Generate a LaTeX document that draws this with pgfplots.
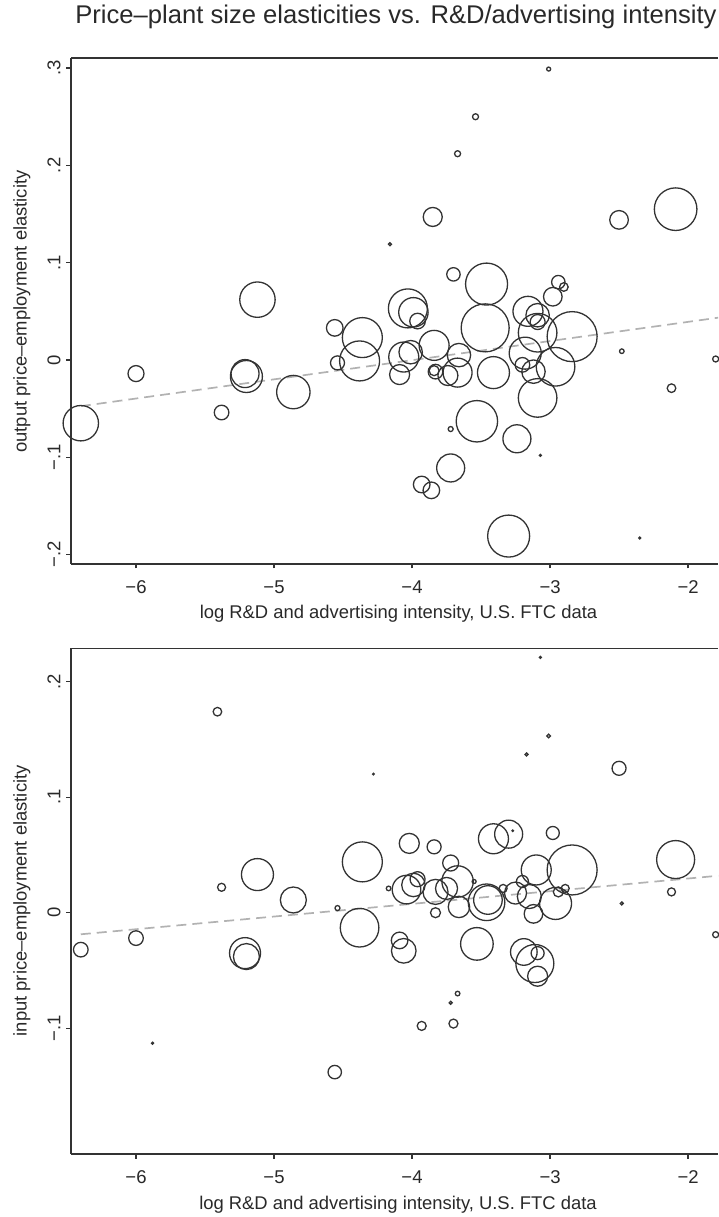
\documentclass[border=0pt]{standalone}
\usepackage{pgfplots}
\pgfplotsset{compat=1.18}
\usepackage{pgfplotstable}
\usepackage{fontspec}
\setmainfont{Liberation Sans}

\definecolor{ink}{HTML}{333333}
\definecolor{fitc}{HTML}{B2B2B2}

% x = log R&D and advertising intensity, y = elasticity, r = bubble radius (pt)
\pgfplotstableread{
x y r
-6.40 -0.065 17.7
-6.00 -0.014 8
-5.38 -0.054 7.3
-5.21 -0.014 14
-5.20 -0.017 16
-5.12 0.062 17.7
-4.86 -0.033 16.7
-4.56 0.033 8.3
-4.54 -0.003 7
-4.36 0.023 20
-4.38 -0.001 20
-4.16 0.119 1.5
-4.03 0.053 19.5
-3.99 0.049 14.7
-3.96 0.040 7.8
-4.06 0.003 15
-4.01 0.008 11.7
-4.09 -0.015 10
-3.85 0.147 9.5
-3.84 0.015 15
-3.83 -0.012 7.3
-3.84 -0.011 5
-3.74 -0.016 10
-3.67 -0.013 14.5
-3.66 0.005 11.7
-3.70 0.088 6.7
-3.67 0.212 3
-3.54 0.250 3
-3.46 0.078 21
-3.47 0.033 24
-3.41 -0.013 16
-3.53 -0.063 20.7
-3.72 -0.071 2.5
-3.72 -0.111 14
-3.93 -0.128 8.3
-3.86 -0.134 8.3
-3.30 -0.181 21
-3.24 -0.081 14
-3.07 -0.098 1
-3.01 0.299 2
-3.16 0.050 15
-3.09 0.046 11.7
-3.09 0.039 7.5
-3.09 0.028 19.3
-3.18 0.007 16
-3.20 -0.005 7.3
-3.12 -0.012 11.7
-2.96 -0.007 19.3
-3.09 -0.039 19.3
-2.84 0.024 25
-2.94 0.080 6.7
-2.90 0.075 4.3
-2.98 0.065 9.3
-2.50 0.144 9.3
-2.48 0.009 2.3
-2.35 -0.183 1
-2.12 -0.029 4.3
-2.09 0.155 21.3
-1.80 0.001 3
}\outputdata

\pgfplotstableread{
x y r
-6.40 -0.032 7.3
-6.00 -0.022 7.3
-5.88 -0.113 1
-5.41 0.174 4.3
-5.38 0.022 4
-5.21 -0.035 15.5
-5.20 -0.038 13
-5.12 0.033 16
-4.86 0.011 13
-4.54 0.004 2.5
-4.56 -0.138 6.7
-4.36 0.044 20
-4.38 -0.013 19.3
-4.28 0.120 0.8
-4.17 0.021 2.3
-4.02 0.060 10
-3.84 0.057 7
-4.04 0.020 14.3
-3.99 0.024 11.7
-3.96 0.029 7.5
-4.09 -0.024 8.3
-4.06 -0.033 12.3
-3.83 0.018 12.5
-3.75 0.021 11
-3.72 0.043 8
-3.67 0.027 15.7
-3.66 0.005 10.7
-3.83 0.000 5
-3.55 0.027 2
-3.53 -0.027 16.3
-3.67 -0.070 2.3
-3.72 -0.078 1.5
-3.93 -0.098 4.5
-3.70 -0.096 4.5
-3.46 0.009 18.3
-3.45 0.011 14.3
-3.41 0.064 15
-3.30 0.068 14
-3.27 0.071 0.7
-3.17 0.137 1.5
-3.07 0.221 1
-3.01 0.153 1.8
-2.98 0.069 6.5
-2.84 0.037 25
-3.10 0.037 15
-3.20 0.027 6
-3.34 0.021 4
-3.25 0.017 11
-3.15 0.014 12
-2.96 0.008 16
-2.94 0.018 5
-2.89 0.021 4
-3.12 -0.001 9.3
-3.19 -0.034 13.3
-3.11 -0.044 19
-3.09 -0.035 6.5
-3.09 -0.055 10
-2.50 0.125 7
-2.48 0.008 1.5
-2.09 0.046 19
-2.12 0.018 4
-1.80 -0.019 3
}\inputdata

\pgfplotsset{
  panel/.style={
    scale only axis, width=647pt,
    xmin=-6.471, xmax=-1.783,
    axis x line*=box, axis y line*=left,
    xtick pos=left, ytick pos=left,
    axis line style={ink, line width=1.3pt},
    tick style={ink, line width=1.3pt},
    tick align=outside, major tick length=4.5pt,
    xtick={-6,-5,-4,-3,-2},
    xticklabels={−6,−5,−4,−3,−2},
    tick label style={font=\fontsize{18.5}{20}\selectfont, text=ink!80!black},
    xticklabel style={anchor=base, yshift=-25pt},
    yticklabel style={xshift=-6pt, rotate=90, anchor=base},
  },
  bubble/.style={
    scatter, only marks, mark=o, line width=1.3pt,
    scatter/use mapped color={draw=ink},
    visualization depends on={\thisrow{r} \as \rad},
    scatter/@pre marker code/.append style={/tikz/mark size=\rad pt},
  },
  fit/.style={no marks, fitc, line width=1.7pt, dash pattern=on 10pt off 6pt},
}

\begin{document}
\begin{tikzpicture}[x=1pt,y=1pt]
\useasboundingbox (0,0) rectangle (718,1217);

\node[font=\fontsize{25.6}{28}\selectfont, text=ink!80!black, anchor=base] at (396,1193) {Price–plant size elasticities vs. R\&D/advertising intensity};

\begin{axis}[panel, at={(71pt,653pt)}, anchor=south west, height=506pt,
  ymin=-0.2097, ymax=0.3104,
  ytick={-0.2,-0.1,0,0.1,0.2,0.3},
  yticklabels={−.2,−.1,0,.1,.2,.3}]
  \addplot[fit] coordinates {(-6.40,-0.0475) (-1.78,0.0435)};
  \addplot[bubble] table[x=x, y=y] {\outputdata};
\end{axis}

\node[font=\fontsize{18.4}{20}\selectfont, text=ink!80!black, anchor=base] at (398.5,598) {log R\&D and advertising intensity, U.S. FTC data};
\node[font=\fontsize{18.4}{20}\selectfont, text=ink!80!black, anchor=base, rotate=90] at (26.5,905.5) {output price–employment elasticity};

\begin{axis}[panel, at={(71pt,63pt)}, anchor=south west, height=505.7pt,
  ymin=-0.2089, ymax=0.2289,
  ytick={-0.1,0,0.1,0.2},
  yticklabels={−.1,0,.1,.2}]
  \addplot[fit] coordinates {(-6.40,-0.0187) (-1.78,0.0320)};
  \addplot[bubble] table[x=x, y=y] {\inputdata};
\end{axis}

\node[font=\fontsize{18.4}{20}\selectfont, text=ink!80!black, anchor=base] at (398,7.7) {log R\&D and advertising intensity, U.S. FTC data};
\node[font=\fontsize{18.4}{20}\selectfont, text=ink!80!black, anchor=base, rotate=90] at (26.5,316.2) {input price–employment elasticity};
\end{tikzpicture}
\end{document}
